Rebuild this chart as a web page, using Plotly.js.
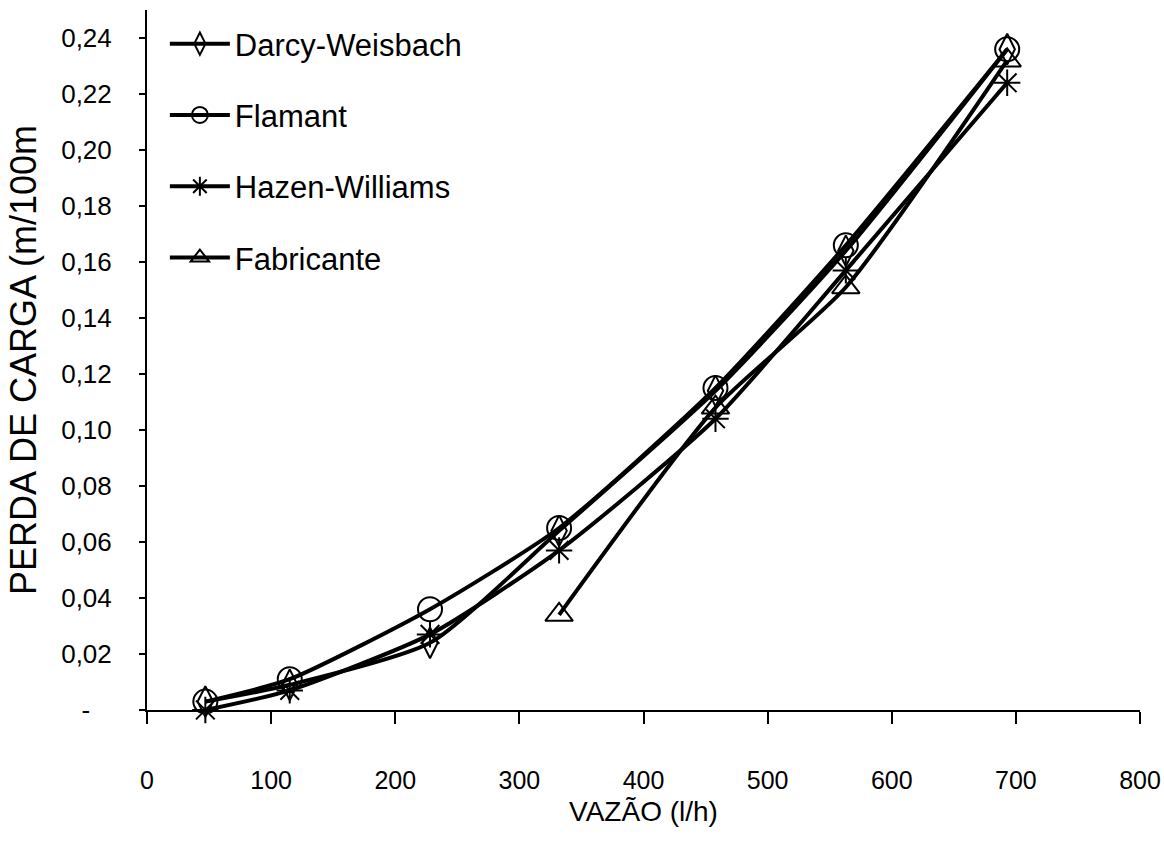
<!DOCTYPE html>
<html>
<head>
<meta charset="utf-8">
<script src="https://cdn.plot.ly/plotly-3.0.1.min.js"></script>
<style>html,body{margin:0;padding:0;background:#fff;}#chart{width:1164px;height:842px;}</style>
</head>
<body>
<div id="chart"></div>
<script>
const vazao = [47, 115, 228, 332, 458, 563, 693];
const vazaoFabricante = [332, 458, 563, 693];
const darcyWeisbach = [0.003, 0.009, 0.024, 0.064, 0.114, 0.164, 0.236];
const flamant = [0.003, 0.011, 0.036, 0.065, 0.115, 0.166, 0.236];
const hazenWilliams = [0.000, 0.007, 0.027, 0.057, 0.104, 0.157, 0.224];
const fabricante = [0.034, 0.108, 0.151, 0.232];
const yTickVals = [0, 0.02, 0.04, 0.06, 0.08, 0.10, 0.12, 0.14, 0.16, 0.18, 0.20, 0.22, 0.24];
const yTickText = ['-\u00a0\u00a0\u00a0', '0,02', '0,04', '0,06', '0,08', '0,10', '0,12', '0,14', '0,16', '0,18', '0,20', '0,22', '0,24'];
const xTickVals = [0, 100, 200, 300, 400, 500, 600, 700, 800];

const FONT = 'Liberation Sans, Arial, sans-serif';
function tr(name, x, y, symbol, size, group) {
  return {
    type: 'scatter', mode: 'lines+markers', name: name, x: x, y: y,
    legendgroup: group,
    line: {color: '#000', width: 4, shape: 'spline', smoothing: 0.6},
    marker: {symbol: symbol, size: size, color: '#000', line: {color: '#000', width: 2}},
    cliponaxis: false
  };
}
const data = [
  tr('Darcy-Weisbach', vazao, darcyWeisbach, 'diamond-tall-open', 22, 'a'),
  tr('Flamant', vazao, flamant, 'circle-open', 24, 'b'),
  tr('Hazen-Williams', vazao, hazenWilliams, 'asterisk-open', 22, 'c'),
  tr('Fabricante', vazaoFabricante, fabricante, 'triangle-up-open', 24, 'd')
];
const layout = {
  width: 1164, height: 842,
  margin: {l: 147, r: 24, t: 10, b: 132},
  paper_bgcolor: '#fff', plot_bgcolor: '#fff',
  font: {family: FONT, color: '#000', size: 24},
  showlegend: true,
  legend: {
    x: 0.018, y: 0.99, xanchor: 'left', yanchor: 'top',
    bgcolor: 'rgba(0,0,0,0)', borderwidth: 0,
    font: {family: FONT, size: 31, color: '#000'},
    traceorder: 'grouped', tracegroupgap: 28, itemwidth: 60
  },
  xaxis: {
    range: [0, 800], tickvals: xTickVals, ticktext: xTickVals.map(String),
    showgrid: false, zeroline: false,
    showline: true, linecolor: '#000', linewidth: 2,
    ticks: 'outside', ticklen: 12, tickwidth: 2, tickcolor: '#000',
    tickfont: {family: FONT, size: 25, color: '#000'},
    ticklabelstandoff: 35,
    title: {text: 'VAZÃO (l/h)', font: {family: FONT, size: 28, color: '#000'}, standoff: 8}
  },
  yaxis: {
    range: [0, 0.25], tickvals: yTickVals, ticktext: yTickText,
    showgrid: false, zeroline: false,
    showline: true, linecolor: '#000', linewidth: 2,
    ticks: 'outside', ticklen: 6, tickwidth: 2, tickcolor: '#000',
    tickfont: {family: FONT, size: 26, color: '#000'},
    ticklabelstandoff: 22,
    title: {text: 'PERDA DE CARGA (m/100m', font: {family: FONT, size: 36, color: '#000'}, standoff: 14}
  }
};
Plotly.newPlot('chart', data, layout, {displayModeBar: false, staticPlot: true});
</script>
</body>
</html>
